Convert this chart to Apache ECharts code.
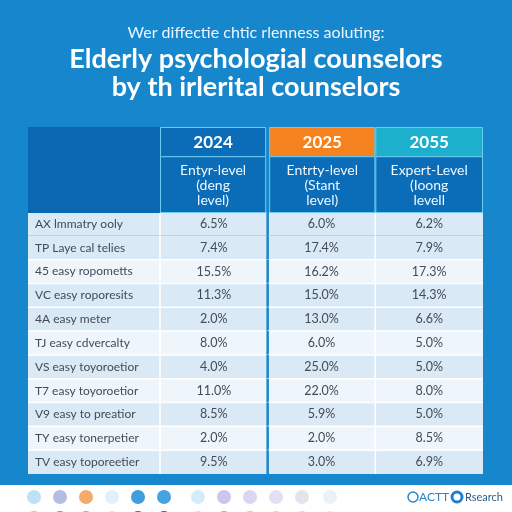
<!DOCTYPE html>
<html><head><meta charset="utf-8">
<script src="https://cdn.jsdelivr.net/npm/echarts@6/dist/echarts.min.js"></script>
<style>html,body{margin:0;padding:0;background:#1787cd}#c{width:512px;height:512px}</style>
</head><body><div id="c"></div>
<script>
// ---- data ----
const subtitle = 'Wer diffectie chtic rlenness aoluting:';
const mainTitle = 'Elderly psychologial counselors\nby th irlerital counselors';
const years = ['2024', '2025', '2055'];
const levels = ['Entyr-level\n(deng\nlevel)', 'Entrty-level\n(Stant\nlevel)', 'Expert-Level\n(Ioong\nlevell'];
const rowLabels = [
  'AX lmmatry ooly', 'TP Laye cal telies', '45 easy ropometts', 'VC easy roporesits',
  '4A easy meter', 'TJ easy cdvercalty', 'VS easy toyoroetior', 'T7 easy toyoroetior',
  'V9 easy to preatior', 'TY easy tonerpetier', 'TV easy toporeetier'
];
const values2024 = [6.5, 7.4, 15.5, 11.3, 2.0, 8.0, 4.0, 11.0, 8.5, 2.0, 9.5];
const values2025 = [6.0, 17.4, 16.2, 15.0, 13.0, 6.0, 25.0, 22.0, 5.9, 2.0, 3.0];
const values2055 = [6.2, 7.9, 17.3, 14.3, 6.6, 5.0, 5.0, 8.0, 5.0, 8.5, 6.9];
const brandA = 'ACTT';
const brandB = 'Rsearch';

// ---- styles ----
const bandShade = [1, 1, 0, 1, 1, 0, 1, 0, 1, 0, 1];
const yearColors = ['#0b6cb7', '#f5821f', '#1cb0cd'];
const dotColorsTop = ['#bfe1f6', '#b3bde0', '#f4aa6c', '#e3eff9', '#3f9edb', '#44a3e0', '#d6ebf9', '#ccc6ee', '#dcd5f2', '#e4e0f2', '#e4e4ec', '#eaf1f9'];
const dotColorsBottom = ['#9fc9ee', '#7f8fcc', '#e9a437', '#d7e2f3', '#1f6fc0', '#1d64b8', '#c8def3', '#aaa2e0', '#c7bfe9', '#d6d0ee', '#d8d8e6', '#e2e8f3'];
const FONT = 'Lato';

const allValues = [values2024, values2025, values2055];
const bodyData = [];
allValues.forEach((arr, c) => arr.forEach((v, r) => bodyData.push([c, r, v])));

const LABEL_W = 132;

function renderBody(params, api) {
  const c = api.value(0), r = api.value(1), v = api.value(2);
  const pt = api.coord([c, r]);
  const sz = api.size([1, 1]);
  const w = sz[0], h = sz[1];
  const x0 = pt[0] - w / 2, y0 = pt[1] - h / 2;
  const fill = bandShade[r] ? '#d9e9f6' : '#eef5fb';
  const ch = [];
  ch.push({ type: 'rect', shape: { x: x0, y: y0, width: w, height: h }, style: { fill: fill } });
  if (c === 0) {
    ch.push({ type: 'rect', shape: { x: x0 - LABEL_W, y: y0, width: LABEL_W, height: h }, style: { fill: fill } });
    ch.push({ type: 'text', x: x0 - LABEL_W + 7, y: pt[1], style: { text: rowLabels[r], fill: '#434b56', font: '12px ' + FONT, verticalAlign: 'middle', align: 'left' } });
  }
  if (r >= 2) {
    const lx = c === 0 ? x0 - LABEL_W : x0;
    ch.push({ type: 'line', shape: { x1: lx, y1: y0, x2: x0 + w, y2: y0 }, style: { stroke: '#ffffff', lineWidth: 1.5 } });
  }
  if (c === 1) {
    ch.push({ type: 'line', shape: { x1: x0, y1: y0, x2: x0, y2: y0 + h }, style: { stroke: '#1a86c8', lineWidth: 2.5 } });
  } else {
    ch.push({ type: 'line', shape: { x1: x0, y1: y0, x2: x0, y2: y0 + h }, style: { stroke: '#ffffff', lineWidth: 1.5 } });
  }
  ch.push({ type: 'text', x: pt[0], y: pt[1], style: { text: v.toFixed(1) + '%', fill: '#434b56', font: '12.5px ' + FONT, align: 'center', verticalAlign: 'middle' } });
  return { type: 'group', children: ch };
}

function renderHeader(params, api) {
  const c = api.value(0);
  const pt = api.coord([c, 0]);
  const w = api.size([1, 0])[0];
  const cs = params.coordSys;
  const top = cs.y, H = cs.height;
  const h1 = H * 0.34;
  let x0 = pt[0] - w / 2, ww = w;
  if (c === 0) { ww -= 1.5; }
  if (c === 1) { x0 += 1.5; ww -= 1.5; }
  const ch = [];
  if (c === 0) {
    ch.push({ type: 'rect', shape: { x: x0 - LABEL_W, y: top, width: LABEL_W, height: H }, style: { fill: '#0a67b0' } });
  }
  ch.push({ type: 'rect', shape: { x: x0 + 0.5, y: top + 0.5, width: ww - 1, height: h1 }, style: { fill: yearColors[c], stroke: '#6ccbf1', lineWidth: 1 } });
  ch.push({ type: 'rect', shape: { x: x0 + 0.5, y: top + h1 + 0.5, width: ww - 1, height: H - h1 - 1 }, style: { fill: '#0b6cb7', stroke: '#6ccbf1', lineWidth: 1 } });
  ch.push({ type: 'text', x: x0 + ww / 2, y: top + h1 / 2 + 1, style: { text: years[c], fill: '#ffffff', font: 'bold 17px ' + FONT, align: 'center', verticalAlign: 'middle' } });
  ch.push({ type: 'text', x: x0 + ww / 2, y: top + h1 + (H - h1) / 2 + 1, style: { text: levels[c], fill: '#eef8ff', font: '14px ' + FONT, lineHeight: 15, align: 'center', verticalAlign: 'middle' } });
  return { type: 'group', children: ch };
}

const footerChildren = [
  { type: 'rect', shape: { x: 0, y: 485, width: 512, height: 27 }, style: { fill: '#ffffff' } }
];
const dotX = [34, 60, 86, 112, 138, 164, 198, 224, 250, 276, 302, 330];
dotX.forEach((x, i) => {
  footerChildren.push({ type: 'circle', shape: { cx: x, cy: 497, r: 7 }, style: { fill: dotColorsTop[i] } });
  footerChildren.push({ type: 'circle', shape: { cx: x, cy: 518, r: 7 }, style: { fill: dotColorsBottom[i] } });
});
footerChildren.push({ type: 'circle', shape: { cx: 413, cy: 497, r: 5 }, style: { fill: 'none', stroke: '#2a86cc', lineWidth: 1.5 } });
footerChildren.push({ type: 'text', x: 419, y: 497, style: { text: brandA, fill: '#2a86cc', font: '12px ' + FONT, verticalAlign: 'middle' } });
footerChildren.push({ type: 'circle', shape: { cx: 457, cy: 497, r: 5 }, style: { fill: '#ffffff', stroke: '#1f7fd0', lineWidth: 3 } });
footerChildren.push({ type: 'text', x: 465, y: 497, style: { text: brandB, fill: '#2c5a84', font: '11px ' + FONT, verticalAlign: 'middle' } });

const chart = echarts.init(document.getElementById('c'));
chart.setOption({
  backgroundColor: '#1787cd',
  animation: false,
  title: [
    { text: subtitle, left: 'center', top: 20, textStyle: { color: '#e9f5ff', fontSize: 16, fontWeight: 'normal', fontFamily: FONT } },
    { text: mainTitle, left: 'center', top: 40, textStyle: { color: '#ffffff', fontSize: 27, fontWeight: 'bold', fontFamily: FONT, lineHeight: 28 } }
  ],
  grid: [
    { left: 160, right: 29, top: 212, bottom: 38 },
    { left: 160, right: 29, top: 127, height: 86 }
  ],
  xAxis: [
    { type: 'category', gridIndex: 0, data: years, show: false },
    { type: 'category', gridIndex: 1, data: years, show: false }
  ],
  yAxis: [
    { type: 'category', gridIndex: 0, data: rowLabels, inverse: true, show: false },
    { type: 'value', gridIndex: 1, min: 0, max: 1, show: false }
  ],
  series: [
    { type: 'custom', xAxisIndex: 0, yAxisIndex: 0, data: bodyData, renderItem: renderBody, silent: true },
    { type: 'custom', xAxisIndex: 1, yAxisIndex: 1, data: years.map((y, i) => [i, 0]), renderItem: renderHeader, silent: true }
  ],
  graphic: footerChildren
});
</script>
</body></html>
